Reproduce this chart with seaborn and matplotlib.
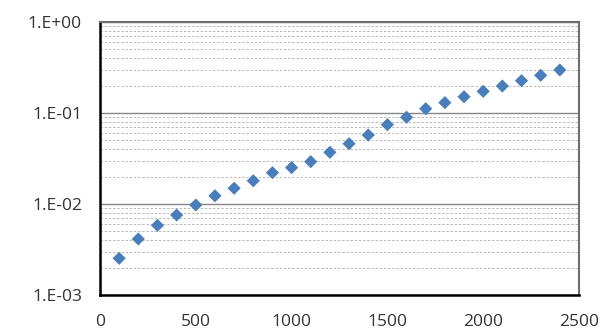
"""
Log-scale scatter of a single series with diamond markers
"""

import matplotlib.pyplot as plt
import matplotlib.ticker as mticker
import pandas as pd
import seaborn as sns

x_values = [100, 200, 300, 400, 500, 600, 700, 800, 900, 1000, 1100, 1200,
            1300, 1400, 1500, 1600, 1700, 1800, 1900, 2000, 2100, 2200, 2300, 2400]
y_values = [0.00253, 0.00413, 0.00583, 0.00757, 0.00975, 0.0123, 0.0149, 0.0180,
            0.0221, 0.0251, 0.0292, 0.0370, 0.0460, 0.0573, 0.0744, 0.0897,
            0.1115, 0.130, 0.151, 0.173, 0.198, 0.2265, 0.2595, 0.297]
x_ticks = [0, 500, 1000, 1500, 2000, 2500]
y_ticks = [1e-3, 1e-2, 1e-1, 1e0]
y_tick_labels = ["1.E-03", "1.E-02", "1.E-01", "1.E+00"]

df = pd.DataFrame({"x": x_values, "y": y_values})

sns.set_style("white")
plt.rcParams["font.family"] = ["Open Sans", "DejaVu Sans"]

fig = plt.figure(figsize=(6.06, 3.35), dpi=100)
ax = fig.add_axes([100 / 606, 40 / 335, 479 / 606, 273 / 335])

ax.set_yscale("log")
ax.set_xlim(0, 2500)
ax.set_ylim(1e-3, 1e0)

# gridlines: solid at decades, dashed at minor
ax.yaxis.set_minor_locator(mticker.LogLocator(base=10, subs=range(2, 10)))
ax.grid(which="major", axis="y", color="#868686", linewidth=1.0, linestyle="-")
ax.grid(which="minor", axis="y", color="#b0b0b0", linewidth=0.6, linestyle=(0, (3, 2)))
ax.grid(which="both", axis="x", visible=False)
ax.set_axisbelow(True)

sns.scatterplot(data=df, x="x", y="y", marker="D", s=45, color="#4a7ebb",
                edgecolor="none", ax=ax, zorder=3)

ax.set_xticks(x_ticks)
ax.set_yticks(y_ticks)
ax.set_yticklabels(y_tick_labels)
ax.yaxis.set_minor_formatter(mticker.NullFormatter())
ax.tick_params(axis="y", which="minor", length=0)
ax.tick_params(axis="both", which="major", direction="inout", length=6,
               width=1, labelsize=12.5, colors="black", labelcolor="#333333")
ax.tick_params(axis="x", pad=11)
ax.tick_params(axis="y", pad=10)
ax.set_xlabel("")
ax.set_ylabel("")

for side in ["left", "bottom"]:
    ax.spines[side].set_color("black")
    ax.spines[side].set_linewidth(1.8)
for side in ["top", "right"]:
    ax.spines[side].set_color("#6e6e6e")
    ax.spines[side].set_linewidth(1.5)

fig.savefig("out.png", dpi=100)
plt.close(fig)
